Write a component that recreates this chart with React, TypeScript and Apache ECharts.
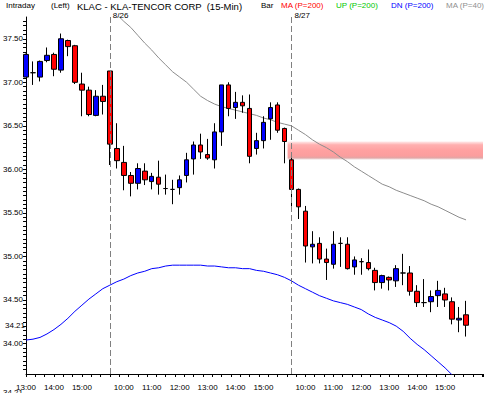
import { useEffect, useRef } from 'react';
import * as echarts from 'echarts';

// 15-min candles: 8/25 13:00-15:45, 8/26 9:30-15:45, 8/27 9:30-15:45
const opens = [
  37.06, 37.11, 37.06, 37.25, 37.32, 37.14, 37.48, 37.42, 36.98, 36.91, 36.62, 36.84,
  37.13, 36.24, 36.08, 35.93, 35.84, 35.98, 35.86, 35.91, 35.78, 35.77, 35.79, 35.93, 36.12, 36.28, 36.17,
  36.11, 36.43, 36.97, 36.71, 36.77, 36.70, 36.24, 36.33, 36.58, 36.74, 36.47,
  36.11, 35.77, 35.52, 35.11, 35.15, 34.97, 34.91, 35.15, 35.14, 34.88, 34.94, 34.93, 34.84,
  34.70, 34.76, 34.72, 34.81, 34.81, 34.60, 34.47, 34.48, 34.55, 34.57, 34.48, 34.27, 34.33,
];
const closes = [
  37.32, 37.11, 37.24, 37.31, 37.15, 37.50, 37.41, 37.00, 36.91, 36.63, 36.84, 36.78,
  36.29, 36.10, 35.93, 35.84, 36.01, 35.88, 35.92, 35.83, 35.78, 35.77, 35.88, 36.11, 36.28, 36.20, 36.13,
  36.43, 36.97, 36.70, 36.77, 36.73, 36.15, 36.33, 36.54, 36.71, 36.45, 36.32,
  35.77, 35.57, 35.12, 35.14, 34.97, 34.93, 35.14, 35.15, 34.86, 34.96, 34.94, 34.86, 34.70,
  34.78, 34.73, 34.86, 34.81, 34.60, 34.47, 34.47, 34.54, 34.61, 34.50, 34.28, 34.29, 34.21,
];
const lows = [
  37.06, 36.97, 37.01, 37.23, 37.07, 37.11, 37.30, 36.98, 36.61, 36.61, 36.61, 36.63,
  36.05, 36.01, 35.76, 35.69, 35.77, 35.82, 35.77, 35.71, 35.71, 35.60, 35.71, 35.85, 35.94, 36.12, 36.11,
  36.01, 36.27, 36.61, 36.58, 36.65, 36.07, 36.17, 36.24, 36.34, 36.42, 36.07,
  35.55, 35.43, 34.93, 34.92, 34.92, 34.73, 34.86, 34.88, 34.85, 34.79, 34.79, 34.84, 34.61,
  34.63, 34.61, 34.65, 34.67, 34.55, 34.42, 34.42, 34.36, 34.42, 34.42, 34.22, 34.13, 34.08,
];
const highs = [
  37.33, 37.24, 37.25, 37.40, 37.34, 37.56, 37.49, 37.43, 37.11, 36.95, 36.91, 36.97,
  37.13, 36.53, 36.27, 35.97, 36.07, 36.07, 35.96, 36.10, 35.94, 35.88, 35.93, 36.19, 36.32, 36.41, 36.35,
  36.53, 36.97, 37.00, 36.89, 36.85, 36.86, 36.42, 36.61, 36.77, 36.77, 36.48,
  36.13, 35.78, 35.58, 35.29, 35.22, 35.09, 35.29, 35.22, 35.22, 35.00, 34.98, 35.08, 34.87,
  34.79, 34.77, 34.90, 35.03, 34.89, 34.67, 34.74, 34.61, 34.72, 34.64, 34.53, 34.42, 34.49,
];

// MA (P=40), gray, first value at candle 13
const ma40Start = 13;
const ma40 = [
  37.78, 37.70, 37.63, 37.54, 37.45, 37.37, 37.28, 37.20, 37.12, 37.06, 37.00, 36.92, 36.84, 36.79,
  36.75, 36.72, 36.70, 36.68, 36.66, 36.64, 36.62, 36.59, 36.57, 36.54, 36.52, 36.50, 36.45, 36.40,
  36.34, 36.29, 36.25, 36.20, 36.14, 36.09, 36.03, 35.98, 35.93, 35.88, 35.83, 35.80, 35.76, 35.73,
  35.70, 35.67, 35.64, 35.60, 35.57, 35.53, 35.49, 35.45, 35.42,
];

// DN (P=200), blue, from candle 0
const dn200 = [
  34.04, 34.05, 34.07, 34.11, 34.16, 34.22, 34.29, 34.37, 34.44, 34.51, 34.57, 34.63,
  34.67, 34.71, 34.74, 34.78, 34.81, 34.83, 34.86, 34.87, 34.89, 34.90, 34.90, 34.90, 34.90, 34.90, 34.89,
  34.89, 34.88, 34.87, 34.87, 34.86, 34.86, 34.84, 34.83, 34.81, 34.79, 34.76,
  34.72, 34.67, 34.63, 34.59, 34.55, 34.52, 34.49, 34.47, 34.45, 34.42, 34.39, 34.34, 34.30,
  34.27, 34.24, 34.20, 34.14, 34.06, 33.99, 33.93, 33.86, 33.79, 33.72, 33.64,
];

const hourTickIndex = [0, 4, 8, 14, 18, 22, 26, 30, 34, 40, 44, 48, 52, 56, 60];
const hourTickLabels = ['13:00', '14:00', '15:00', '10:00', '11:00', '12:00', '13:00', '14:00', '15:00', '10:00', '11:00', '12:00', '13:00', '14:00', '15:00'];
const dayStartIndex = [12, 38];
const dayLabels = ['8/26', '8/27'];
const gapIndex = 37; // gap between close of this candle and open of the next

const headerTexts = [
  { text: 'Intraday', color: '#000000', x: 6, size: 8 },
  { text: '(Left)', color: '#000000', x: 51, size: 8 },
  { text: 'KLAC - KLA-TENCOR CORP  (15-Min)', color: '#000000', x: 77, size: 9.5 },
  { text: 'Bar', color: '#000000', x: 261, size: 8 },
  { text: 'MA (P=200)', color: '#ff0000', x: 281, size: 8 },
  { text: 'UP (P=200)', color: '#00c800', x: 336, size: 8 },
  { text: 'DN (P=200)', color: '#0000ff', x: 391, size: 8 },
  { text: 'MA (P=40)', color: '#909090', x: 446, size: 8 },
];

const FONT = 'Liberation Sans, Arial, sans-serif';
const X_MAX = 458 / 7;
const Y_MIN = 33.65;
const Y_MAX = 37.75;

export default function App() {
  const ref = useRef<HTMLDivElement>(null);
  useEffect(() => {
    if (!ref.current) return;
    const chart = echarts.init(ref.current, undefined, { renderer: 'svg' });
    const candles = opens.map((o, i) => [i, o, closes[i], lows[i], highs[i]]);
    const lastClose = closes[closes.length - 1];
    const hourMap: Record<number, string> = {};
    hourTickIndex.forEach((idx, k) => (hourMap[idx] = hourTickLabels[k]));

    chart.setOption({
      animation: false,
      backgroundColor: '#ffffff',
      textStyle: { fontFamily: FONT },
      grid: { left: 25, right: 3, top: 17, height: 357 },
      graphic: [
        ...headerTexts.map((h) => ({
          type: 'text',
          left: h.x,
          top: 1,
          style: { text: h.text, fill: h.color, font: `${h.size}px ${FONT}` },
        })),
        {
          type: 'text',
          left: 3,
          top: 388,
          style: { text: lastClose.toFixed(2), fill: '#000', font: `8px ${FONT}` },
        },
      ],
      xAxis: [
        {
          type: 'value',
          min: 0,
          max: X_MAX,
          interval: 4 / 3,
          axisLine: { show: true, onZero: false, lineStyle: { color: '#000', width: 1 } },
          axisTick: { show: true, length: 3, lineStyle: { color: '#000' } },
          axisLabel: { show: false },
          splitLine: { show: false },
        },
        {
          type: 'value',
          min: 0,
          max: X_MAX,
          interval: 1,
          position: 'bottom',
          axisLine: { show: false },
          axisTick: { show: false },
          splitLine: { show: false },
          axisLabel: {
            show: true,
            margin: 9,
            color: '#000',
            fontSize: 8,
            fontFamily: FONT,
            showMinLabel: true,
            showMaxLabel: false,
            formatter: (v: number) => {
              const r = Math.round(v);
              if (Math.abs(v - r) > 1e-6) return '';
              return hourMap[r] ?? '';
            },
          },
        },
      ],
      yAxis: {
        type: 'value',
        min: Y_MIN,
        max: Y_MAX,
        interval: 0.05,
        axisLine: { show: true, onZero: false, lineStyle: { color: '#000', width: 1 } },
        axisTick: { show: true, length: 3, lineStyle: { color: '#000' } },
        splitLine: { show: false },
        axisLabel: {
          margin: 3,
          color: '#000',
          fontSize: 8,
          fontFamily: FONT,
          showMinLabel: false,
          showMaxLabel: false,
          formatter: (v: number) =>
            Math.abs(v * 2 - Math.round(v * 2)) < 1e-6 ? v.toFixed(2) : '',
        },
      },
      series: [
        {
          name: 'MA (P=40)',
          type: 'line',
          z: 3,
          xAxisIndex: 0,
          data: ma40.map((v, k) => [ma40Start + k, v]),
          showSymbol: false,
          symbol: 'none',
          lineStyle: { color: '#8c8c8c', width: 1 },
          markArea: {
            silent: true,
            itemStyle: {
              color: new echarts.graphic.LinearGradient(0, 0, 0, 1, [
                { offset: 0, color: 'rgba(255,190,190,0.35)' },
                { offset: 0.18, color: '#ffb0b0' },
                { offset: 0.5, color: '#ffa0a0' },
                { offset: 0.78, color: '#fb9e9e' },
                { offset: 0.9, color: '#e2a6a6' },
                { offset: 1, color: 'rgba(225,205,205,0.35)' },
              ]),
            },
            data: [
              [
                { xAxis: gapIndex + 0.45, yAxis: closes[gapIndex] },
                { xAxis: X_MAX, yAxis: opens[gapIndex + 1] },
              ],
            ],
          },
          markLine: {
            silent: true,
            symbol: ['none', 'none'],
            data: [
              ...dayStartIndex.map((idx, k) => ({
                xAxis: idx,
                lineStyle: { color: '#808080', width: 1, type: [6, 3] },
                label: {
                  show: true,
                  position: 'end',
                  distance: 2,
                  align: 'left',
                  verticalAlign: 'middle',
                  padding: [0, 0, 0, 3],
                  color: '#000',
                  fontSize: 8,
                  fontFamily: FONT,
                  formatter: dayLabels[k],
                },
              })),
              {
                yAxis: lastClose,
                lineStyle: { color: 'rgba(0,0,0,0)', width: 1, opacity: 1 },
                label: {
                  show: true,
                  position: 'start',
                  distance: 1,
                  opacity: 1,
                  color: '#000',
                  fontSize: 8,
                  fontFamily: FONT,
                  formatter: lastClose.toFixed(2),
                },
              },
            ],
          },
        },
        {
          name: 'DN (P=200)',
          type: 'line',
          z: 3,
          xAxisIndex: 0,
          data: dn200.map((v, i) => [i, v]),
          showSymbol: false,
          symbol: 'none',
          lineStyle: { color: '#0000ff', width: 1 },
        },
        {
          name: 'KLAC',
          type: 'candlestick',
          z: 4,
          xAxisIndex: 0,
          barWidth: 5,
          encode: { x: 0, y: [1, 2, 3, 4] },
          data: candles,
          itemStyle: {
            color: '#0000ff',
            color0: '#ff0000',
            borderColor: '#000000',
            borderColor0: '#000000',
            borderColorDoji: '#000000',
            borderWidth: 1,
          },
        },
      ],
    });
    return () => chart.dispose();
  }, []);
  return (
    <div
      ref={ref}
      style={{ position: 'absolute', left: 0, top: 0, width: 486, height: 393, background: '#fff' }}
    />
  );
}
